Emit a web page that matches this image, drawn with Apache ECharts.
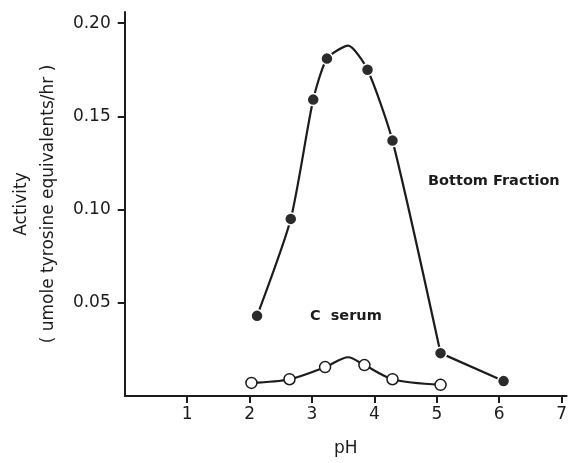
<!DOCTYPE html>
<html>
<head>
<meta charset="utf-8">
<script src="https://cdn.jsdelivr.net/npm/echarts@6/dist/echarts.min.js"></script>
<style>
  html, body { margin: 0; padding: 0; background: #fff; }
  #main { width: 570px; height: 463px; }
</style>
</head>
<body>
<div id="main"></div>
<script>
var bottomPH = [2.12, 2.66, 3.02, 3.24, 3.89, 4.29, 5.06, 6.07];
var bottomAct = [0.043, 0.095, 0.159, 0.181, 0.175, 0.137, 0.023, 0.008];
var serumPH = [2.03, 2.64, 3.21, 3.84, 4.29, 5.06];
var serumAct = [0.007, 0.009, 0.0155, 0.0166, 0.009, 0.006];

// top of the hand drawn curves (no marker there)
var bottomPeak = [3.58, 0.188];
var serumPeak = [3.58, 0.0208];

// the bottom fraction curve turns sharply at this point and runs straight after it
var bottomBreak = 6;

var xTicks = [1, 2, 3, 4, 5, 6, 7];
var yTicks = [0.05, 0.10, 0.15, 0.20];

var FONT = 'DejaVu Sans';
var INK = '#1c1c1c';

function buildCurve(xs, ys, peak) {
    var pts = [];
    for (var i = 0; i < xs.length; i++) {
        pts.push({ value: [xs[i], ys[i]] });
    }
    if (peak) pts.push({ value: peak, symbol: 'none' });
    pts.sort(function (a, b) { return a.value[0] - b.value[0]; });
    return pts;
}

var bottomCurve = buildCurve(bottomPH.slice(0, bottomBreak + 1), bottomAct.slice(0, bottomBreak + 1), bottomPeak);
var bottomTail = buildCurve(bottomPH.slice(bottomBreak), bottomAct.slice(bottomBreak), null);
bottomTail[0].symbol = 'none';

var chart = echarts.init(document.getElementById('main'));

var filledDot = { color: '#2b2b2b', borderColor: '#fff', borderWidth: 1.5 };

var option = {
    animation: false,
    backgroundColor: '#fff',
    grid: {
        left: 123,
        right: 0,
        top: 12,
        bottom: 67
    },
    xAxis: {
        type: 'value',
        min: 0,
        max: 7.08,
        name: 'pH',
        nameLocation: 'middle',
        nameGap: 44,
        nameTextStyle: { color: INK, fontFamily: FONT, fontSize: 17 },
        splitLine: { show: false },
        axisLine: { lineStyle: { color: INK, width: 2 } },
        axisTick: {
            customValues: xTicks,
            length: 7,
            lineStyle: { color: INK, width: 2 }
        },
        axisLabel: {
            customValues: xTicks,
            margin: 10,
            color: INK,
            fontFamily: FONT,
            fontSize: 17
        }
    },
    yAxis: {
        type: 'value',
        min: 0,
        max: 0.206,
        name: 'Activity\n( umole tyrosine equivalents/hr )',
        nameLocation: 'middle',
        nameGap: 62,
        nameTextStyle: { color: INK, fontFamily: FONT, fontSize: 17, lineHeight: 27 },
        splitLine: { show: false },
        axisLine: { lineStyle: { color: INK, width: 2 } },
        axisTick: {
            customValues: yTicks,
            length: 7,
            lineStyle: { color: INK, width: 2 }
        },
        axisLabel: {
            customValues: yTicks,
            margin: 14,
            color: INK,
            fontFamily: FONT,
            fontSize: 17,
            formatter: function (v) { return v.toFixed(2); }
        }
    },
    graphic: [
        {
            type: 'text',
            left: 428,
            top: 174,
            style: { text: 'Bottom Fraction', fill: INK, font: 'bold 14.5px "DejaVu Sans"' }
        },
        {
            type: 'text',
            left: 310,
            top: 309,
            style: { text: 'C  serum', fill: INK, font: 'bold 14.5px "DejaVu Sans"' }
        }
    ],
    series: [
        {
            name: 'Bottom Fraction',
            type: 'line',
            data: bottomCurve,
            smooth: 0.22,
            symbol: 'circle',
            symbolSize: 12,
            lineStyle: { color: INK, width: 2.2 },
            itemStyle: filledDot,
            z: 3
        },
        {
            name: 'Bottom Fraction tail',
            type: 'line',
            data: bottomTail,
            symbol: 'circle',
            symbolSize: 12,
            lineStyle: { color: INK, width: 2.2 },
            itemStyle: filledDot,
            z: 2
        },
        {
            name: 'C serum',
            type: 'line',
            data: buildCurve(serumPH, serumAct, serumPeak),
            smooth: 0.3,
            symbol: 'circle',
            symbolSize: 11,
            lineStyle: { color: INK, width: 2.2 },
            itemStyle: { color: '#fff', borderColor: INK, borderWidth: 1.5 }
        }
    ]
};

chart.setOption(option);
</script>
</body>
</html>
